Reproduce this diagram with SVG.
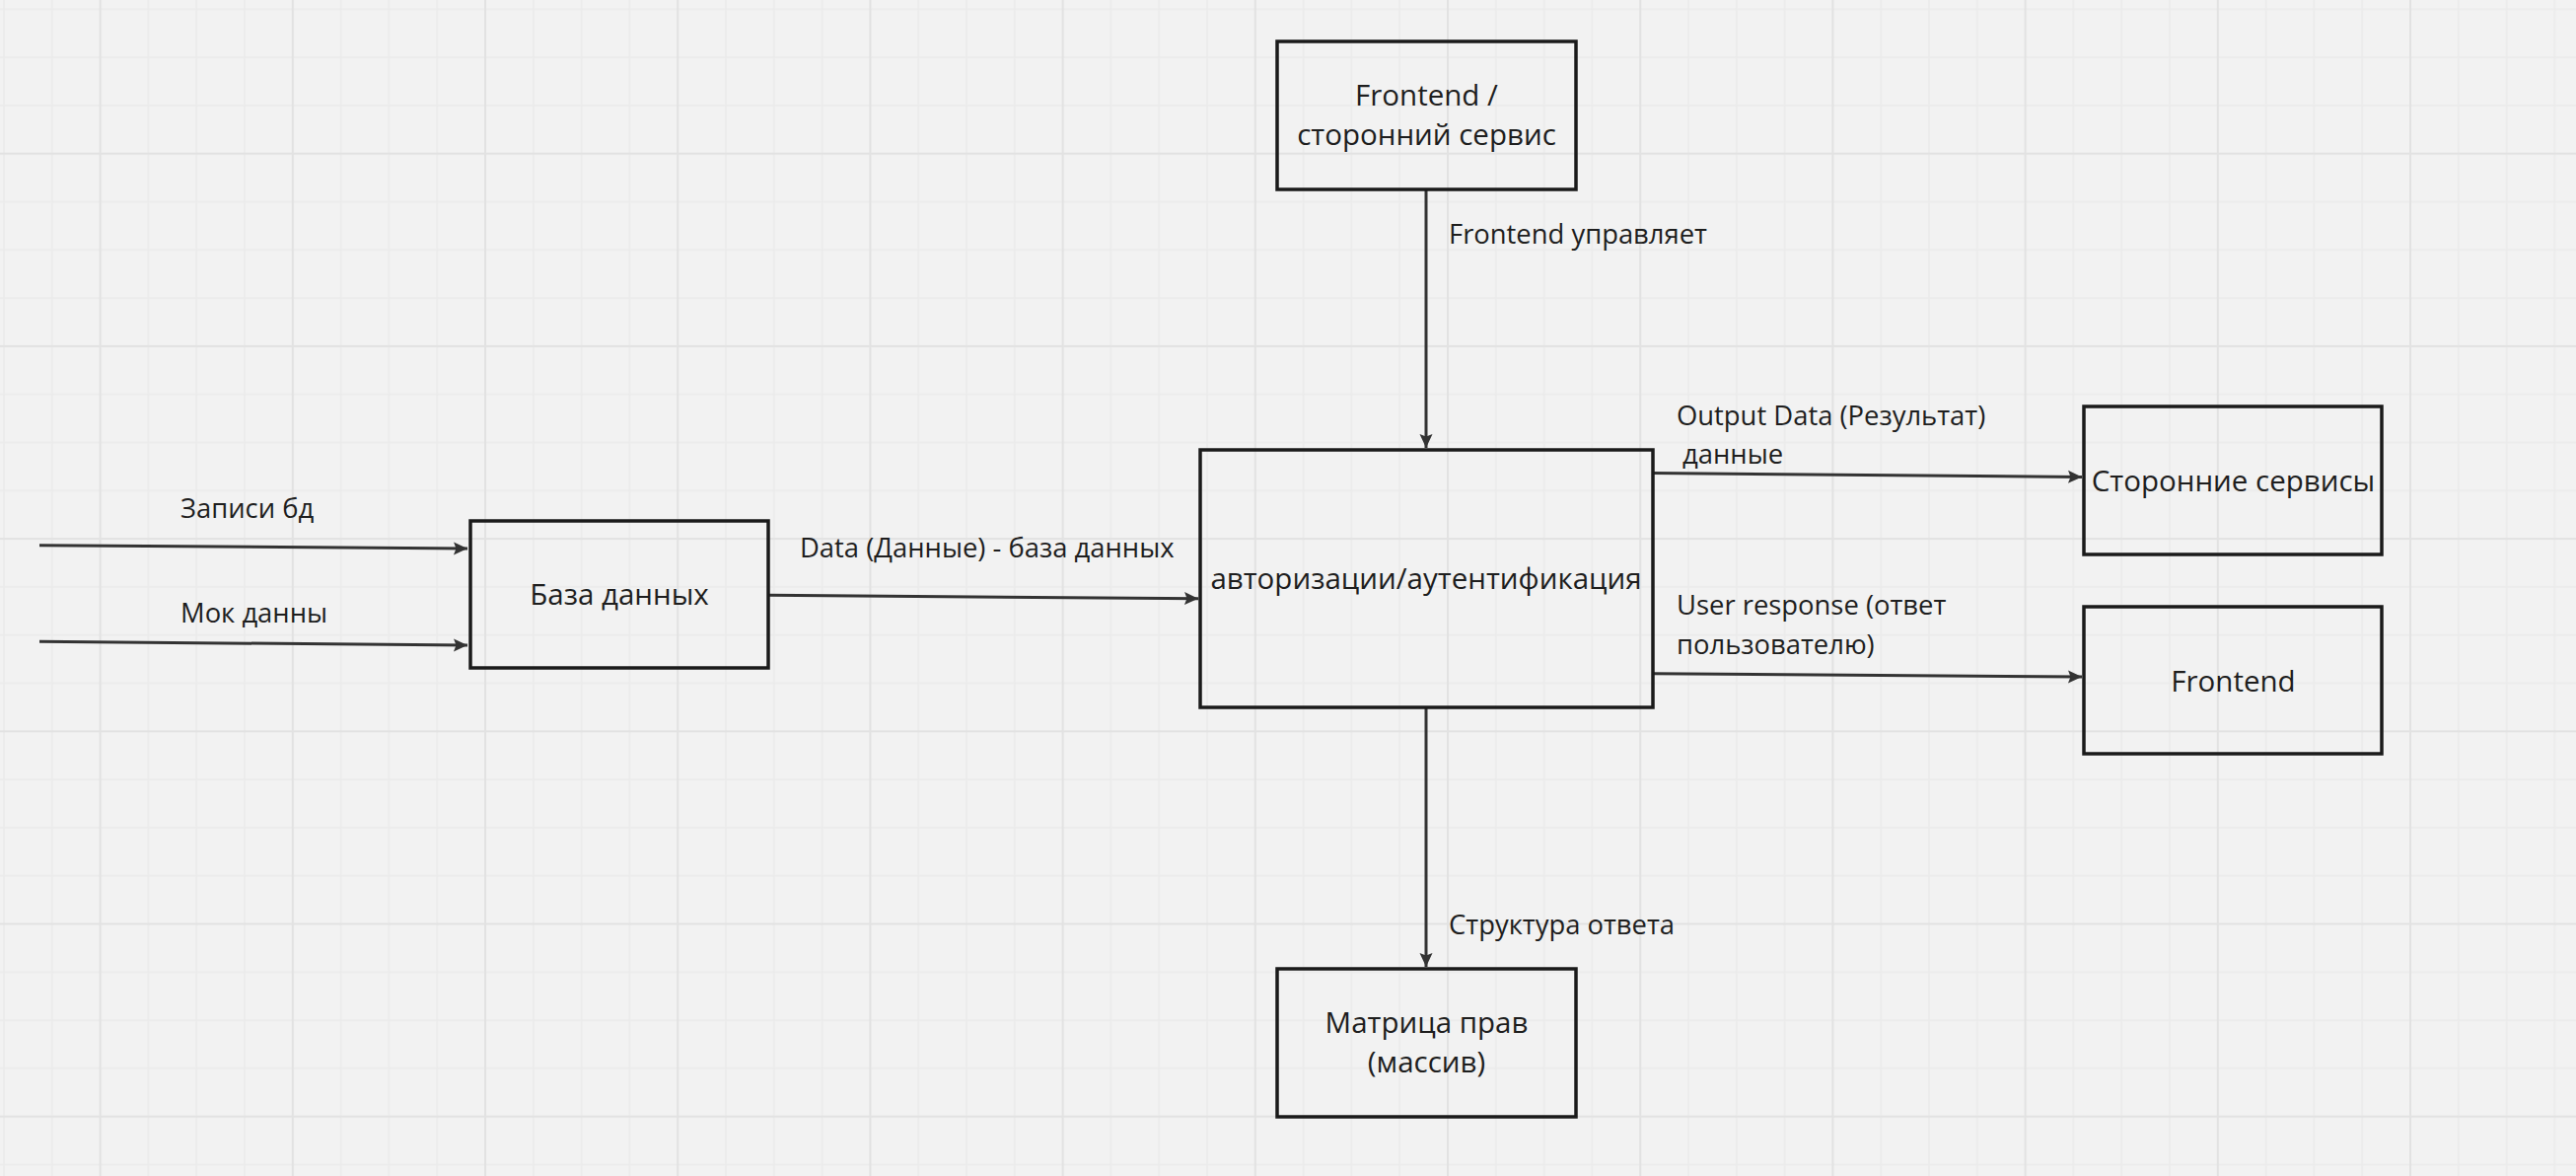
<svg xmlns="http://www.w3.org/2000/svg" width="2612" height="1192" viewBox="0 0 2612 1192">
<defs>
<pattern id="grid" patternUnits="userSpaceOnUse" x="100.6" y="154.7" width="195.2" height="195.2">
<rect x="0" y="0" width="195.2" height="195.2" fill="#f2f2f2"/>
<rect x="49.05" y="0" width="1.5" height="195.2" fill="#ebebeb"/>
<rect x="97.85" y="0" width="1.5" height="195.2" fill="#ebebeb"/>
<rect x="146.65" y="0" width="1.5" height="195.2" fill="#ebebeb"/>
<rect x="0" y="49.05" width="195.2" height="1.5" fill="#ebebeb"/>
<rect x="0" y="97.85" width="195.2" height="1.5" fill="#ebebeb"/>
<rect x="0" y="146.65" width="195.2" height="1.5" fill="#ebebeb"/>
<rect x="0" y="0" width="2" height="195.2" fill="#e2e2e2"/>
<rect x="0" y="0" width="195.2" height="2" fill="#e2e2e2"/>
</pattern>
<marker id="arrow" markerUnits="userSpaceOnUse" markerWidth="16" markerHeight="14" refX="14" refY="6.5" orient="auto" overflow="visible">
<path d="M0,0 L14,6.5 L0,13 L2.5,6.5 Z" fill="#333333"/>
</marker>
<style>
.box{fill:none;stroke:#1a1a1a;stroke-width:3.5}
.conn{stroke:#333333;stroke-width:3;fill:none;marker-end:url(#arrow)}
text{font-family:"Open Sans","Noto Sans",sans-serif;font-size:27.4px;fill:#1e1e1e}
.c{text-anchor:middle;font-size:29.5px}
</style>
</defs>
<rect x="0" y="0" width="2612" height="1192" fill="url(#grid)"/>

<g id="connectors">
<line class="conn" x1="40" y1="552.7" x2="474" y2="556"/>
<text x="183" y="525">Записи бд</text>
<line class="conn" x1="40" y1="650.3" x2="474" y2="654"/>
<text x="183" y="631">Мок данны</text>
<line class="conn" x1="779" y1="603.3" x2="1215" y2="606.7"/>
<text x="811" y="565">Data (Данные) - база данных</text>
<line class="conn" x1="1446" y1="192" x2="1446" y2="454"/>
<text x="1469" y="247">Frontend управляет</text>
<line class="conn" x1="1676" y1="479.5" x2="2111" y2="483.5"/>
<text x="1700" y="431">Output Data (Результат)</text>
<text x="1706" y="470">данные</text>
<line class="conn" x1="1676" y1="682.7" x2="2111" y2="686"/>
<text x="1700" y="623">User response (ответ</text>
<text x="1700" y="663">пользователю)</text>
<line class="conn" x1="1446" y1="717" x2="1446" y2="980"/>
<text x="1469" y="947">Структура ответа</text>
</g>

<g id="node-frontend-service">
<rect class="box" x="1295" y="42" width="303" height="150"/>
<text class="c" x="1446.5" y="107">Frontend /</text>
<text class="c" x="1446.5" y="147">сторонний сервис</text>
</g>

<g id="node-db">
<rect class="box" x="477" y="528" width="302" height="149"/>
<text class="c" x="628" y="613">База данных</text>
</g>

<g id="node-auth">
<rect class="box" x="1217" y="456" width="459" height="261"/>
<text class="c" x="1446" y="597">авторизации/аутентификация</text>
</g>

<g id="node-third-party">
<rect class="box" x="2113" y="412" width="302" height="150"/>
<text class="c" x="2264.5" y="498">Сторонние сервисы</text>
</g>

<g id="node-frontend">
<rect class="box" x="2113" y="615" width="302" height="149"/>
<text class="c" x="2264.5" y="701">Frontend</text>
</g>

<g id="node-matrix">
<rect class="box" x="1295" y="982" width="303" height="150"/>
<text class="c" x="1446.5" y="1047">Матрица прав</text>
<text class="c" x="1446.5" y="1087">(массив)</text>
</g>
</svg>
